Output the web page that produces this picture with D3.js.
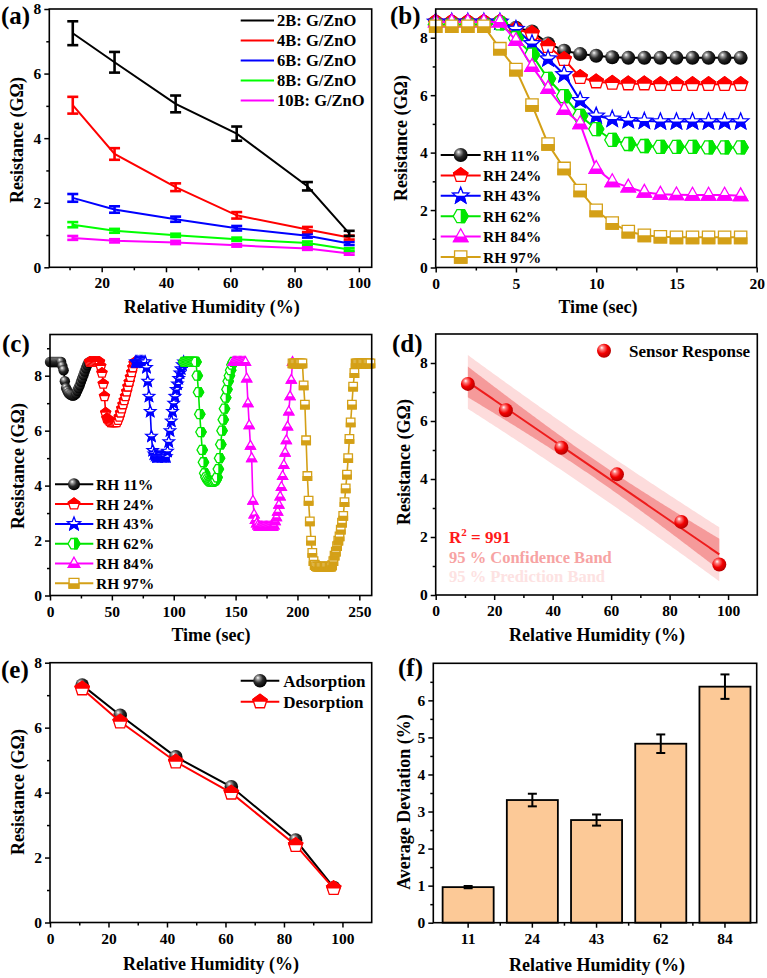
<!DOCTYPE html>
<html><head><meta charset="utf-8">
<script src="https://cdn.jsdelivr.net/npm/d3@7"></script>
<style>body{margin:0;background:#fff;}</style>
</head><body><div id="chart"></div>
<script>
// ---------------- DATA ----------------
const rh = [11, 24, 43, 62, 84, 97];
// (a)
const aNames = ["2B: G/ZnO", "4B: G/ZnO", "6B: G/ZnO", "8B: G/ZnO", "10B: G/ZnO"];
const aColors = ["#000000", "#ff0000", "#0000ff", "#00ff00", "#ff00ff"];
const a2B = [7.25, 6.35, 5.06, 4.14, 2.51, 1.05];
const a4B = [5.02, 3.51, 2.48, 1.61, 1.17, 0.92];
const a6B = [2.15, 1.79, 1.49, 1.21, 0.98, 0.74];
const a8B = [1.32, 1.13, 0.99, 0.87, 0.75, 0.55];
const a10B = [0.91, 0.82, 0.77, 0.68, 0.58, 0.43];
const a2Berr = [0.37, 0.32, 0.26, 0.22, 0.13, 0.08];
const a4Berr = [0.26, 0.18, 0.12, 0.10, 0.08, 0.06];
const a6Berr = [0.12, 0.10, 0.08, 0.07, 0.06, 0.05];
const a8Berr = [0.08, 0.06, 0.05, 0.05, 0.05, 0.04];
const a10Berr = [0.06, 0.05, 0.05, 0.04, 0.04, 0.04];
// (b)
const bTime = [0,1,2,3,4,5,6,7,8,9,10,11,12,13,14,15,16,17,18,19];
const b11 = [8.55,8.55,8.55,8.55,8.55,8.35,8.22,7.8,7.55,7.43,7.37,7.32,7.3,7.3,7.3,7.3,7.3,7.3,7.3,7.3];
const b24 = [8.55,8.55,8.55,8.55,8.55,8.3,8.15,7.7,7.25,6.62,6.47,6.42,6.4,6.4,6.38,6.38,6.38,6.38,6.38,6.38];
const b43 = [8.55,8.55,8.55,8.55,8.55,8.3,7.8,7.27,6.72,5.82,5.28,5.17,5.12,5.1,5.08,5.08,5.08,5.08,5.08,5.08];
const b62 = [8.45,8.45,8.45,8.45,8.5,7.99,7.41,6.57,5.97,5.28,4.82,4.44,4.3,4.23,4.2,4.2,4.2,4.18,4.18,4.18];
const b84 = [8.55,8.55,8.55,8.55,8.55,7.9,7.0,6.23,5.5,5.01,3.45,2.99,2.8,2.62,2.55,2.53,2.52,2.52,2.52,2.5];
const b97 = [8.4,8.4,8.4,8.4,7.62,6.89,5.66,4.3,3.45,2.68,1.99,1.55,1.25,1.12,1.07,1.05,1.05,1.05,1.05,1.05];
const rhNames = ["RH 11%", "RH 24%", "RH 43%", "RH 62%", "RH 84%", "RH 97%"];
const rhColors = ["#000000", "#ff0000", "#0000ff", "#00e600", "#ff00ff", "#d4a017"];
const rhShapes = ["sphere", "pentagon", "star", "hexagon", "triangle", "square"];
// (c) [time, resistance]
const c11 = [[0,8.5],[1,8.5],[2,8.5],[3,8.5],[4,8.5],[5,8.5],[6,8.5],[7,8.5],[8,8.5],[9,8.5],[10,8.35],[11,8.2],[12,7.8],[13,7.55],[14,7.45],[15,7.37],[16,7.32],[17,7.3],[18,7.28],[19,7.28],[20,7.3],[21,7.35],[22,7.45],[23,7.55],[24,7.65],[25,7.78],[26,7.9],[27,8.02],[28,8.15],[29,8.27],[30,8.38],[31,8.47],[32,8.5]];
const c24 = [[32,8.5],[33,8.5],[34,8.5],[35,8.5],[36,8.5],[37,8.5],[38,8.5],[39,8.5],[40,8.5],[41,8.35],[42,8.1],[43,7.7],[44,7.25],[45,6.65],[46,6.45],[47,6.4],[48,6.35],[49,6.3],[50,6.3],[51,6.3],[52,6.3],[53,6.3],[54,6.3],[55,6.38],[56,6.5],[57,6.65],[58,6.8],[59,6.95],[60,7.1],[61,7.25],[62,7.42],[63,7.6],[64,7.77],[65,7.95],[66,8.12],[67,8.3],[68,8.45],[69,8.5]];
const c43 = [[69,8.5],[70,8.5],[71,8.5],[72,8.5],[73,8.5],[74,8.5],[75,8.5],[76,8.5],[77,8.5],[78,8.3],[79,7.8],[80,7.25],[81,6.7],[82,5.8],[83,5.28],[84,5.15],[85,5.1],[86,5.05],[87,5.05],[88,5.05],[89,5.05],[90,5.05],[91,5.05],[92,5.05],[93,5.05],[94,5.05],[95,5.25],[96,5.6],[97,6.0],[98,6.35],[99,6.7],[100,7.0],[101,7.25],[102,7.5],[103,7.7],[104,7.9],[105,8.1],[106,8.25],[107,8.4],[108,8.5]];
const c62 = [[108,8.5],[109,8.5],[110,8.5],[111,8.5],[112,8.5],[113,8.5],[114,8.5],[115,8.5],[116,8.5],[117,8.5],[118,8.5],[119,8.0],[120,7.4],[121,6.6],[122,5.95],[123,5.3],[124,4.85],[125,4.45],[126,4.3],[127,4.23],[128,4.18],[129,4.15],[130,4.15],[131,4.15],[132,4.15],[133,4.18],[134,4.2],[135,4.3],[136,4.6],[137,5.0],[138,5.5],[139,6.0],[140,6.4],[141,6.8],[142,7.2],[143,7.5],[144,7.8],[145,8.0],[146,8.2],[147,8.4],[148,8.5]];
const c84 = [[148,8.5],[149,8.5],[150,8.5],[151,8.5],[152,8.5],[153,8.5],[154,8.5],[155,8.5],[156,8.5],[157,8.5],[158,8.5],[159,7.9],[160,7.0],[161,6.2],[162,5.45],[163,5.0],[164,3.45],[165,2.95],[166,2.75],[167,2.62],[168,2.55],[169,2.5],[170,2.5],[171,2.5],[172,2.5],[173,2.5],[174,2.5],[175,2.5],[176,2.5],[177,2.5],[178,2.5],[179,2.5],[180,2.5],[181,2.55],[182,2.7],[183,2.85],[184,3.05],[185,3.3],[186,3.6],[187,3.95],[188,4.35],[189,4.75],[190,5.2],[191,5.65],[192,6.15],[193,6.7],[194,7.25],[195,7.85],[196,8.5]];
const c97 = [[196,8.45],[197,8.45],[198,8.45],[199,8.45],[200,8.45],[201,8.45],[202,8.45],[203,8.45],[204,8.45],[205,7.65],[206,6.95],[207,5.65],[208,4.35],[209,3.45],[210,2.7],[211,2.0],[212,1.55],[213,1.25],[214,1.12],[215,1.07],[216,1.05],[217,1.05],[218,1.05],[219,1.05],[220,1.05],[221,1.05],[222,1.05],[223,1.05],[224,1.05],[225,1.05],[226,1.05],[227,1.05],[228,1.1],[229,1.25],[230,1.45],[231,1.6],[232,1.8],[233,2.0],[234,2.15],[235,2.4],[236,2.65],[237,2.9],[238,3.4],[239,3.9],[240,4.4],[241,5.0],[242,5.7],[243,6.3],[244,6.95],[245,7.6],[246,8.1],[247,8.45],[248,8.45],[249,8.45],[250,8.45],[251,8.45],[252,8.45],[253,8.45],[254,8.45],[255,8.45],[256,8.45],[257,8.45],[258,8.45],[259,8.45]];
// (d)
const dResp = [7.28, 6.37, 5.08, 4.16, 2.52, 1.05];
// (e)
const eAds = [7.31, 6.38, 5.10, 4.18, 2.54, 1.08];
const eDes = [7.20, 6.18, 4.95, 3.99, 2.38, 1.05];
// (f)
const fCats = ["11", "24", "43", "62", "84"];
const fDev = [0.96, 3.31, 2.77, 4.83, 6.37];
const fErr = [0.03, 0.17, 0.15, 0.25, 0.33];

// ---------------- SETUP ----------------
const FONT = '"Liberation Serif","Times New Roman",serif';
const TICK = 15.5, TITLE = 18, PLAB = 25;
const svg = d3.select("#chart").append("svg").attr("width", 767).attr("height", 978).style("background", "#fff");
const defs = svg.append("defs");
function sphereGrad(id, stops) {
  const g = defs.append("radialGradient").attr("id", id).attr("cx", "40%").attr("cy", "38%").attr("r", "62%").attr("fx", "34%").attr("fy", "28%");
  stops.forEach(s => g.append("stop").attr("offset", s[0]).attr("stop-color", s[1]));
}
sphereGrad("sphK", [[0, "#ffffff"], [0.2, "#a0a0a0"], [0.55, "#2a2a2a"], [1, "#000000"]]);
sphereGrad("sphR", [[0, "#ffffff"], [0.22, "#ff8080"], [0.6, "#f20000"], [1, "#b80000"]]);
defs.append("clipPath").attr("id", "clipTop").append("rect").attr("x", -30).attr("y", -30).attr("width", 60).attr("height", 30);
defs.append("clipPath").attr("id", "clipBot").append("rect").attr("x", -30).attr("y", 0).attr("width", 60).attr("height", 30);
defs.append("clipPath").attr("id", "clipRight").append("rect").attr("x", 0).attr("y", -30).attr("width", 30).attr("height", 60);

function txt(x, y, s, size, opt = {}) {
  const t = svg.append("text").attr("x", x).attr("y", y).text(s)
    .style("font-family", FONT).style("font-weight", "bold").style("font-size", size + "px")
    .attr("fill", opt.fill || "#000");
  if (opt.anchor) t.attr("text-anchor", opt.anchor);
  if (opt.rotate) t.attr("transform", `rotate(-90,${x},${y})`);
  return t;
}
function styleAxis(sel) {
  sel.select(".domain").remove();
  sel.selectAll(".tick line").attr("stroke", "#000").attr("stroke-width", 1.5);
  sel.selectAll(".tick text").attr("fill", "#000").style("font-size", TICK + "px").style("font-family", FONT).style("font-weight", "bold");
}
function axes(x, y, o) {
  const yb = y.range()[0], xl = x.range()[0];
  const g = svg.append("g");
  g.append("g").attr("transform", `translate(0,${yb})`)
    .call(d3.axisBottom(x).tickValues(o.xMajor).tickSize(5).tickSizeOuter(0).tickPadding(5).tickFormat(d => d)).call(styleAxis);
  if (o.xMinor) g.append("g").attr("transform", `translate(0,${yb})`)
    .call(d3.axisBottom(x).tickValues(o.xMinor).tickSize(3).tickSizeOuter(0).tickFormat("")).call(styleAxis);
  g.append("g").attr("transform", `translate(${xl},0)`)
    .call(d3.axisLeft(y).tickValues(o.yMajor).tickSize(5).tickSizeOuter(0).tickPadding(3).tickFormat(d => d)).call(styleAxis);
  g.append("g").attr("transform", `translate(${xl},0)`)
    .call(d3.axisLeft(y).tickValues(o.yMinor).tickSize(3).tickSizeOuter(0).tickFormat("")).call(styleAxis);
  return g;
}
function frame(x, y) {
  const yb = y.range()[0], yt = y.range()[1], xl = x.range()[0], xr = x.range()[1];
  svg.append("rect").attr("x", xl).attr("y", yt).attr("width", xr - xl).attr("height", yb - yt)
    .attr("fill", "none").attr("stroke", "#000").attr("stroke-width", 1.6);
}
function polyPts(n, r, a0, rInner) {
  const pts = [];
  const m = rInner ? n * 2 : n;
  for (let k = 0; k < m; k++) {
    const rr = rInner ? (k % 2 ? rInner : r) : r;
    const a = (a0 + k * 360 / m) * Math.PI / 180;
    pts.push([rr * Math.cos(a), rr * Math.sin(a)]);
  }
  return "M" + pts.map(p => p[0].toFixed(2) + "," + p[1].toFixed(2)).join("L") + "Z";
}
function shapePath(type, r) {
  if (type === "pentagon") return polyPts(5, r, -90);
  if (type === "star") return polyPts(5, r * 1.15, -90, r * 0.5);
  if (type === "hexagon") return polyPts(6, r, 0);
  if (type === "triangle") return `M0,${-r * 1.05}L${r * 0.95},${r * 0.65}L${-r * 0.95},${r * 0.65}Z`;
  if (type === "square") { const s = r * 0.82; return `M${-s},${-s}L${s},${-s}L${s},${s}L${-s},${s}Z`; }
}
const clipFor = { pentagon: "clipTop", star: "clipBot", hexagon: "clipRight", triangle: "clipBot", square: "clipBot" };
function marker(g, type, color, r) {
  if (type === "sphere") {
    g.append("circle").attr("r", r).attr("fill", color === "#ff0000" ? "url(#sphR)" : "url(#sphK)");
    return;
  }
  const d = shapePath(type, r);
  g.append("path").attr("d", d).attr("fill", "#fff").attr("stroke", color).attr("stroke-width", 1.3);
  g.append("path").attr("d", d).attr("fill", color).attr("stroke", color).attr("stroke-width", 1.3).attr("clip-path", `url(#${clipFor[type]})`);
}
function drawMarkers(pts, x, y, type, color, r) {
  svg.append("g").selectAll("g").data(pts).join("g")
    .attr("transform", d => `translate(${x(d[0])},${y(d[1])})`)
    .each(function () { marker(d3.select(this), type, color, r); });
}

// ---------------- (a) ----------------
{
  const x = d3.scaleLinear().domain([3.7, 104]).range([49.3, 371.7]);
  const y = d3.scaleLinear().domain([0, 8]).range([267.3, 9]);
  axes(x, y, { xMajor: [20, 40, 60, 80, 100], xMinor: [10, 30, 50, 70, 90], yMajor: [0, 2, 4, 6, 8], yMinor: [1, 3, 5, 7] });
  const vals = [a2B, a4B, a6B, a8B, a10B], errs = [a2Berr, a4Berr, a6Berr, a8Berr, a10Berr];
  for (let s = vals.length - 1; s >= 0; s--) {
    const pts = rh.map((h, i) => [h, vals[s][i], errs[s][i]]);
    svg.append("path").datum(pts).attr("fill", "none").attr("stroke", aColors[s]).attr("stroke-width", 2)
      .attr("d", d3.line().x(d => x(d[0])).y(d => y(d[1])));
    const eb = svg.append("g").attr("stroke", aColors[s]).attr("stroke-width", 2.6);
    pts.forEach(d => {
      const cx = x(d[0]), y1 = y(d[1] + d[2]), y2 = y(d[1] - d[2]);
      eb.append("line").attr("x1", cx).attr("x2", cx).attr("y1", y1).attr("y2", y2);
      eb.append("line").attr("x1", cx - 5.5).attr("x2", cx + 5.5).attr("y1", y1).attr("y2", y1);
      eb.append("line").attr("x1", cx - 5.5).attr("x2", cx + 5.5).attr("y1", y2).attr("y2", y2);
    });
  }
  frame(x, y);
  aNames.forEach((n, i) => {
    const yy = 20.5 + 20 * i;
    svg.append("line").attr("x1", 240.7).attr("x2", 274).attr("y1", yy).attr("y2", yy).attr("stroke", aColors[i]).attr("stroke-width", 2);
    txt(277, yy + 5.5, n, 16.5);
  });
  txt(1, 24, "(a)", PLAB);
  txt(211.7, 313, "Relative Humidity (%)", TITLE, { anchor: "middle" });
  txt(23, 140, "Resistance (GΩ)", TITLE, { anchor: "middle", rotate: true });
}

// ---------------- (b) ----------------
{
  const x = d3.scaleLinear().domain([0, 20]).range([435.7, 756.7]);
  const y = d3.scaleLinear().domain([0, 9]).range([267.5, 9]);
  axes(x, y, { xMajor: [0, 5, 10, 15, 20], xMinor: [2.5, 7.5, 12.5, 17.5], yMajor: [0, 2, 4, 6, 8], yMinor: [1, 3, 5, 7] });
  const vals = [b11, b24, b43, b62, b84, b97];
  vals.forEach((v, s) => {
    const pts = bTime.map((t, i) => [t, v[i]]);
    svg.append("path").datum(pts).attr("fill", "none").attr("stroke", rhColors[s]).attr("stroke-width", 2)
      .attr("d", d3.line().x(d => x(d[0])).y(d => y(d[1])));
    drawMarkers(pts, x, y, rhShapes[s], rhColors[s], rhShapes[s] === "sphere" ? 7 : 7.5);
  });
  frame(x, y);
  rhNames.forEach((n, i) => {
    const yy = 155 + 20.4 * i;
    svg.append("line").attr("x1", 440.7).attr("x2", 480.7).attr("y1", yy).attr("y2", yy).attr("stroke", rhColors[i]).attr("stroke-width", 2);
    const g = svg.append("g").attr("transform", `translate(460.7,${yy})`);
    marker(g, rhShapes[i], rhColors[i], rhShapes[i] === "sphere" ? 7 : 7.5);
    txt(483, yy + 5.5, n, 15.5);
  });
  txt(390, 24, "(b)", PLAB);
  txt(598, 313, "Time (sec)", TITLE, { anchor: "middle" });
  txt(407, 138, "Resistance (GΩ)", TITLE, { anchor: "middle", rotate: true });
}

// ---------------- (c) ----------------
{
  const x = d3.scaleLinear().domain([0, 260]).range([50, 371.7]);
  const y = d3.scaleLinear().domain([0, 9.5]).range([595.5, 334.5]);
  axes(x, y, { xMajor: [0, 50, 100, 150, 200, 250], xMinor: [25, 75, 125, 175, 225], yMajor: [0, 2, 4, 6, 8], yMinor: [1, 3, 5, 7, 9] });
  const series = [c11, c24, c43, c62, c84, c97];
  series.forEach((pts, s) => {
    svg.append("path").datum(pts).attr("fill", "none").attr("stroke", rhColors[s]).attr("stroke-width", 1.6)
      .attr("d", d3.line().x(d => x(d[0])).y(d => y(d[1])));
    drawMarkers(pts, x, y, rhShapes[s], rhColors[s], 5.2);
  });
  frame(x, y);
  rhNames.forEach((n, i) => {
    const yy = 484.3 + 19.8 * i;
    svg.append("line").attr("x1", 55).attr("x2", 93.3).attr("y1", yy).attr("y2", yy).attr("stroke", rhColors[i]).attr("stroke-width", 2);
    const g = svg.append("g").attr("transform", `translate(74,${yy})`);
    marker(g, rhShapes[i], rhColors[i], 6);
    txt(96, yy + 5.5, n, 15.5);
  });
  txt(2, 352, "(c)", PLAB);
  txt(211, 641, "Time (sec)", TITLE, { anchor: "middle" });
  txt(24, 466, "Resistance (GΩ)", TITLE, { anchor: "middle", rotate: true });
}

// ---------------- (d) ----------------
{
  const x = d3.scaleLinear().domain([0, 110]).range([435.7, 757.3]);
  const y = d3.scaleLinear().domain([0, 9]).range([595, 334]);
  axes(x, y, { xMajor: [0, 20, 40, 60, 80, 100], xMinor: [10, 30, 50, 70, 90], yMajor: [0, 2, 4, 6, 8], yMinor: [1, 3, 5, 7] });
  // linear regression of the data, with 95% confidence & prediction bands
  const n = rh.length, mx = d3.mean(rh), my = d3.mean(dResp);
  const sxx = d3.sum(rh, v => (v - mx) ** 2);
  const sxy = d3.sum(rh.map((v, i) => (v - mx) * (dResp[i] - my)));
  const b1 = sxy / sxx, b0 = my - b1 * mx;
  const sse = d3.sum(rh.map((v, i) => (dResp[i] - b0 - b1 * v) ** 2));
  const se = Math.sqrt(sse / (n - 2)), tq = 2.776;
  const xs = d3.range(rh[0], rh[n - 1] + 0.001, 0.5);
  const band = k => xs.map(xx => [xx, b0 + b1 * xx, tq * se * Math.sqrt(k + 1 / n + (xx - mx) ** 2 / sxx)]);
  const area = d3.area().x(d => x(d[0])).y0(d => y(d[1] - d[2])).y1(d => y(d[1] + d[2]));
  svg.append("path").datum(band(1)).attr("fill", "#fddcdc").attr("d", area);
  svg.append("path").datum(band(0)).attr("fill", "#f59a9a").attr("d", area);
  svg.append("path").datum(xs.map(xx => [xx, b0 + b1 * xx])).attr("fill", "none").attr("stroke", "#ee1c1c").attr("stroke-width", 2)
    .attr("d", d3.line().x(d => x(d[0])).y(d => y(d[1])));
  drawMarkers(rh.map((h, i) => [h, dResp[i]]), x, y, "sphere", "#ff0000", 7);
  frame(x, y);
  marker(svg.append("g").attr("transform", "translate(604,350.7)"), "sphere", "#ff0000", 7);
  txt(629, 356.5, "Sensor Response", 17);
  const r2 = txt(449, 542.5, "R", 17, { fill: "#ff1a1a" });
  r2.append("tspan").attr("dy", -7).style("font-size", "11px").text("2");
  r2.append("tspan").attr("dy", 7).text(" = 991");
  txt(449, 562.5, "95 % Confidence Band", 16.5, { fill: "#f7a3a3" });
  txt(449, 582, "95 % Prediction Band", 16.5, { fill: "#fde2e2" });
  txt(392, 352, "(d)", PLAB);
  txt(597, 641, "Relative Humidity (%)", TITLE, { anchor: "middle" });
  txt(410, 462, "Resistance (GΩ)", TITLE, { anchor: "middle", rotate: true });
}

// ---------------- (e) ----------------
{
  const x = d3.scaleLinear().domain([0, 110]).range([50, 371.7]);
  const y = d3.scaleLinear().domain([0, 8]).range([922.5, 662.7]);
  axes(x, y, { xMajor: [0, 20, 40, 60, 80, 100], xMinor: [10, 30, 50, 70, 90], yMajor: [0, 2, 4, 6, 8], yMinor: [1, 3, 5, 7] });
  const ser = [[eAds, "#000000", "sphere"], [eDes, "#ff0000", "pentagon"]];
  ser.forEach(([v, c, sh]) => {
    const pts = rh.map((h, i) => [h, v[i]]);
    svg.append("path").datum(pts).attr("fill", "none").attr("stroke", c).attr("stroke-width", 2)
      .attr("d", d3.line().x(d => x(d[0])).y(d => y(d[1])));
    drawMarkers(pts, x, y, sh, c, sh === "sphere" ? 6.8 : 7.5);
  });
  frame(x, y);
  ["Adsorption", "Desorption"].forEach((n, i) => {
    const yy = 680.7 + 21 * i;
    svg.append("line").attr("x1", 240.7).attr("x2", 279.3).attr("y1", yy).attr("y2", yy).attr("stroke", ser[i][1]).attr("stroke-width", 2);
    marker(svg.append("g").attr("transform", `translate(260,${yy})`), ser[i][2], ser[i][1], i === 0 ? 6.8 : 7.5);
    txt(283.3, yy + 6, n, 17);
  });
  txt(1, 678, "(e)", PLAB);
  txt(211, 970, "Relative Humidity (%)", TITLE, { anchor: "middle" });
  txt(24, 792, "Resistance (GΩ)", TITLE, { anchor: "middle", rotate: true });
}

// ---------------- (f) ----------------
{
  const x = d3.scaleBand().domain(fCats).range([433.3, 756.7]).paddingInner(0.205).paddingOuter(0.121).align(0.6);
  const y = d3.scaleLinear().domain([0, 7]).range([922.7, 663.3]);
  const g = svg.append("g");
  g.append("g").attr("transform", "translate(0,922.7)")
    .call(d3.axisBottom(x).tickSize(5).tickSizeOuter(0).tickPadding(5)).call(styleAxis);
  g.append("g").attr("transform", "translate(433.3,0)")
    .call(d3.axisLeft(y).tickValues([0, 1, 2, 3, 4, 5, 6]).tickSize(5).tickSizeOuter(0).tickPadding(3).tickFormat(d => d)).call(styleAxis);
  g.append("g").attr("transform", "translate(433.3,0)")
    .call(d3.axisLeft(y).tickValues([0.5, 1.5, 2.5, 3.5, 4.5, 5.5, 6.5]).tickSize(3).tickSizeOuter(0).tickFormat("")).call(styleAxis);
  fCats.slice(0, -1).forEach(c => {
    const mx = x(c) + x.bandwidth() + (x.step() - x.bandwidth()) / 2;
    g.append("line").attr("x1", mx).attr("x2", mx).attr("y1", 922.7).attr("y2", 925.7).attr("stroke", "#000").attr("stroke-width", 1.5);
  });
  svg.append("g").selectAll("rect").data(fCats).join("rect")
    .attr("x", d => x(d)).attr("width", x.bandwidth())
    .attr("y", (d, i) => y(fDev[i])).attr("height", (d, i) => y(0) - y(fDev[i]))
    .attr("fill", "#fcc997").attr("stroke", "#000").attr("stroke-width", 1.8);
  const eb = svg.append("g").attr("stroke", "#000").attr("stroke-width", 2);
  fCats.forEach((c, i) => {
    const cx = x(c) + x.bandwidth() / 2, y1 = y(fDev[i] + fErr[i]), y2 = y(fDev[i] - fErr[i]);
    eb.append("line").attr("x1", cx).attr("x2", cx).attr("y1", y1).attr("y2", y2);
    eb.append("line").attr("x1", cx - 4.5).attr("x2", cx + 4.5).attr("y1", y1).attr("y2", y1);
    eb.append("line").attr("x1", cx - 4.5).attr("x2", cx + 4.5).attr("y1", y2).attr("y2", y2);
  });
  svg.append("rect").attr("x", 433.3).attr("y", 663.3).attr("width", 756.7 - 433.3).attr("height", 922.7 - 663.3)
    .attr("fill", "none").attr("stroke", "#000").attr("stroke-width", 1.6);
  txt(398, 676, "(f)", PLAB);
  txt(597, 971, "Relative Humidity (%)", TITLE, { anchor: "middle" });
  txt(410, 802, "Average Deviation (%)", TITLE, { anchor: "middle", rotate: true });
}
</script></body></html>
